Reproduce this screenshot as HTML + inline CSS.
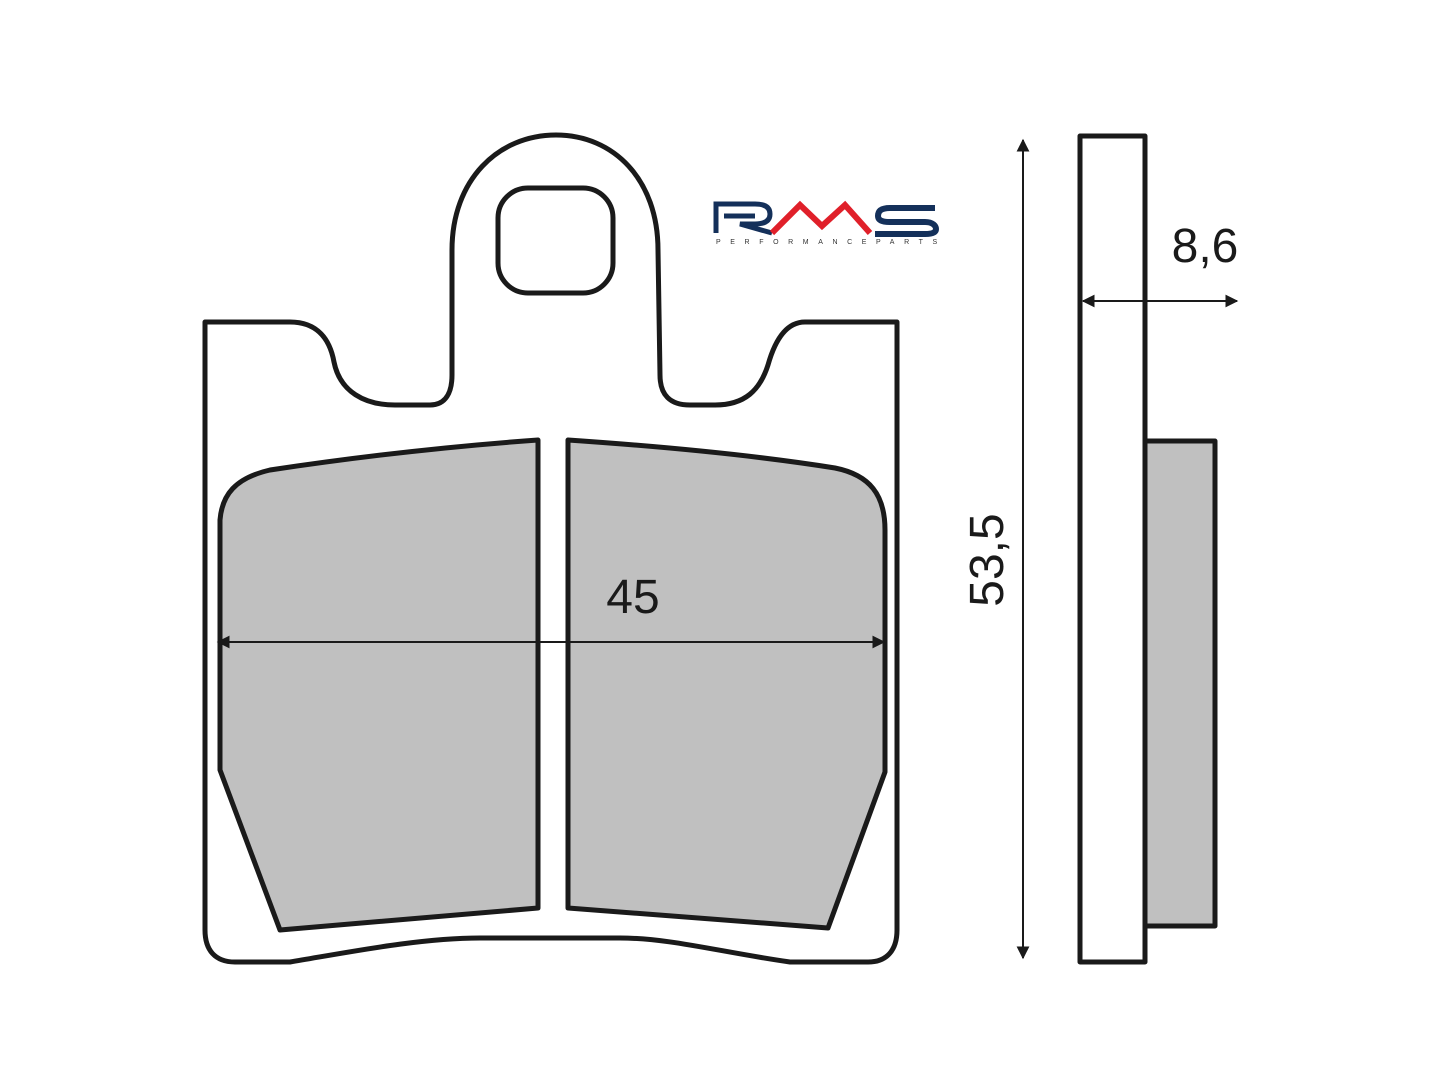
<!DOCTYPE html>
<html><head><meta charset="utf-8"><style>
html,body{margin:0;padding:0;background:#fff;}
svg{display:block;}
</style></head><body>
<svg width="1440" height="1080" viewBox="0 0 1440 1080" xmlns="http://www.w3.org/2000/svg">
<defs>
<marker id="ar" viewBox="0 0 10 10" refX="9" refY="5" markerWidth="6.5" markerHeight="6.5" orient="auto-start-reverse">
<path d="M0,0 L10,5 L0,10 z" fill="#1a1a1a"/></marker>
</defs>
<g fill="none" stroke="#1a1a1a" stroke-width="5" stroke-linejoin="round">
<path d="M205,322 L290,322 C318,322 330,340 334,362 C340,392 365,405 395,405 L430,405 C446,405 452,392 452,375 L452,250 C452,180 498,135 556,135 C614,135 658,180 658,250 L660,375 C660,395 670,405 690,405 L715,405 C745,405 760,390 768,365 C775,340 786,322 805,322 L897,322 L897,930 C897,950 887,962 868,962 L790,962 C720,952 670,938 620,938 L480,938 C420,938 350,952 290,962 L235,962 C215,962 205,950 205,930 Z"/>
<rect x="498" y="188" width="115" height="105" rx="30" ry="30"/>
<path fill="#c0c0c0" d="M538,440 L538,908 L280,930 L220,770 L220,520 C222,495 235,478 270,470 C350,458 440,447 538,440 Z"/>
<path fill="#c0c0c0" d="M568,440 C670,447 760,456 835,468 C870,475 885,495 885,530 L885,772 L828,928 L568,908 Z"/>
<rect x="1080" y="136" width="65" height="826"/>
<rect fill="#c0c0c0" x="1145" y="441" width="70" height="485"/>
</g>
<g stroke="#1a1a1a" stroke-width="2" fill="none">
<line x1="218" y1="642" x2="884" y2="642" marker-start="url(#ar)" marker-end="url(#ar)"/>
<line x1="1023" y1="140" x2="1023" y2="958" marker-start="url(#ar)" marker-end="url(#ar)"/>
<line x1="1083" y1="301" x2="1237" y2="301" marker-start="url(#ar)" marker-end="url(#ar)"/>
</g>
<g font-family="Liberation Sans, sans-serif" fill="#1a1a1a" font-size="48">
<text x="633" y="613" text-anchor="middle">45</text>
<text x="1205" y="262" text-anchor="middle">8,6</text>
<text transform="translate(1003,560) rotate(-90)" text-anchor="middle">53,5</text>
</g>
<g>
<path d="M716,233 L716,204 L755,204 C766,204 770,208 770,214 C770,220 766,224 755,224 L740,224 L772,233 M724,216 L755,216" stroke="#14305a" stroke-width="5" fill="none"/>
<path d="M772,233 L800,205 L822,226 L845,205 L870,233" stroke="#e0202a" stroke-width="6" fill="none" stroke-linejoin="miter"/>
<path d="M935,208 L890,208 C880,208 878,212 878,216 C878,220 882,222 890,222 L925,222 C933,222 936,226 936,229 C936,232 933,234 925,234 L875,234" stroke="#14305a" stroke-width="6" fill="none"/>
<text x="716" y="244" font-family="Liberation Sans, sans-serif" font-size="7" letter-spacing="9.6" fill="#333">PERFORMANCEPARTS</text>
</g>
</svg>
</body></html>
